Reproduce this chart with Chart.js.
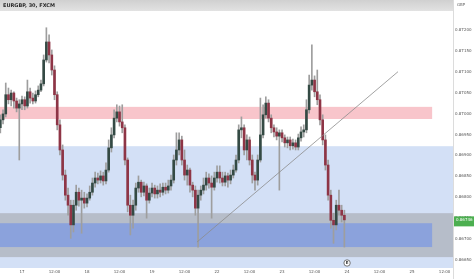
<!DOCTYPE html>
<html>
<head>
<meta charset="utf-8">
<script src="https://cdn.jsdelivr.net/npm/chart.js@4.4.1/dist/chart.umd.min.js"></script>
<style>
  html, body { margin: 0; padding: 0; background: #fff; }
  canvas { display: block; }
</style>
</head>
<body>
<canvas id="chart" width="474" height="279"></canvas>
<script>
// EURGBP, FXCM - candles, one per trading hour.
// x = trading hours since the 17th 00:00 (weekend skipped, like the platform does)
const headerText = 'EURGBP, 30, FXCM';
const currency = 'GBP';
const startHour = -8;
const firstOpen = 0.86966;

const closes = [
    0.86985, 0.86999, 0.87045, 0.87033, 0.87049, 0.87030, 0.87013, 0.87023,
    0.87033, 0.87018, 0.87052, 0.87037, 0.87030, 0.87045, 0.87056, 0.87071,
    0.87128, 0.87171, 0.87140, 0.87104, 0.87045, 0.86973, 0.86913, 0.86853,
    0.86805, 0.86781, 0.86734, 0.86781, 0.86812, 0.86793, 0.86798, 0.86786,
    0.86798, 0.86812, 0.86834, 0.86846, 0.86841, 0.86851, 0.86839, 0.86865,
    0.86918, 0.86949, 0.86989, 0.87004, 0.86980, 0.86966, 0.86889, 0.86781,
    0.86757, 0.86781, 0.86822, 0.86836, 0.86812, 0.86827, 0.86793, 0.86810,
    0.86822, 0.86808, 0.86817, 0.86812, 0.86824, 0.86817, 0.86827, 0.86841,
    0.86889, 0.86913, 0.86937, 0.86889, 0.86853, 0.86865, 0.86829, 0.86817,
    0.86774, 0.86805, 0.86817, 0.86829, 0.86846, 0.86834, 0.86824, 0.86846,
    0.86860, 0.86846, 0.86836, 0.86851, 0.86841, 0.86853, 0.86865, 0.86889,
    0.86961, 0.86966, 0.86913, 0.86937, 0.86889, 0.86853, 0.86841, 0.86889,
    0.86949, 0.86997, 0.87025, 0.86989, 0.86966, 0.86956, 0.86946, 0.86954,
    0.86942, 0.86930, 0.86937, 0.86923, 0.86930, 0.86920, 0.86942, 0.86956,
    0.86961, 0.87009, 0.87068, 0.87080, 0.87052, 0.87033, 0.86985, 0.86937,
    0.86877, 0.86805, 0.86745, 0.86734, 0.86781, 0.86769, 0.86757, 0.86746
];

const highs = [
    0.86997, 0.87009, 0.87073, 0.87061, 0.87056, 0.87052, 0.87037, 0.87033,
    0.87042, 0.87040, 0.87080, 0.87061, 0.87049, 0.87054, 0.87066, 0.87080,
    0.87140, 0.87205, 0.87188, 0.87152, 0.87114, 0.87052, 0.86985, 0.86925,
    0.86865, 0.86822, 0.86793, 0.86793, 0.86829, 0.86822, 0.86817, 0.86812,
    0.86808, 0.86827, 0.86846, 0.86860, 0.86858, 0.86863, 0.86860, 0.86882,
    0.86937, 0.86966, 0.87009, 0.87021, 0.87018, 0.87021, 0.86973, 0.86894,
    0.86805, 0.86793, 0.86834, 0.86851, 0.86841, 0.86836, 0.86832, 0.86822,
    0.86834, 0.86829, 0.86827, 0.86832, 0.86834, 0.86834, 0.86841, 0.86853,
    0.86901, 0.86954, 0.86954, 0.86946, 0.86913, 0.86877, 0.86870, 0.86836,
    0.86827, 0.86817, 0.86827, 0.86846, 0.86860, 0.86856, 0.86851, 0.86860,
    0.86875, 0.86875, 0.86860, 0.86860, 0.86858, 0.86865, 0.86877, 0.86901,
    0.86973, 0.86992, 0.86973, 0.86949, 0.86944, 0.86901, 0.86860, 0.86901,
    0.87037, 0.87021, 0.87040, 0.87033, 0.86997, 0.86973, 0.86966, 0.86961,
    0.86961, 0.86949, 0.86944, 0.86944, 0.86939, 0.86937, 0.86951, 0.86968,
    0.86973, 0.87033, 0.87092, 0.87164, 0.87090, 0.87104, 0.87045, 0.86997,
    0.86949, 0.86889, 0.86817, 0.86762, 0.86793, 0.86817, 0.86781, 0.86769
];

const lows = [
    0.86954, 0.86975, 0.86992, 0.87023, 0.87018, 0.87013, 0.87004, 0.86889,
    0.87009, 0.87009, 0.87013, 0.87025, 0.87023, 0.87025, 0.87040, 0.87052,
    0.87066, 0.87123, 0.87121, 0.87092, 0.87033, 0.86961, 0.86901, 0.86841,
    0.86793, 0.86757, 0.86702, 0.86717, 0.86769, 0.86779, 0.86714, 0.86774,
    0.86777, 0.86793, 0.86805, 0.86824, 0.86832, 0.86834, 0.86829, 0.86832,
    0.86860, 0.86908, 0.86942, 0.86980, 0.86970, 0.86954, 0.86877, 0.86765,
    0.86710, 0.86726, 0.86769, 0.86812, 0.86801, 0.86803, 0.86750, 0.86786,
    0.86801, 0.86798, 0.86798, 0.86801, 0.86805, 0.86808, 0.86810, 0.86817,
    0.86834, 0.86877, 0.86901, 0.86877, 0.86841, 0.86829, 0.86812, 0.86801,
    0.86757, 0.86681, 0.86793, 0.86808, 0.86817, 0.86822, 0.86750, 0.86817,
    0.86836, 0.86834, 0.86827, 0.86827, 0.86824, 0.86832, 0.86846, 0.86860,
    0.86882, 0.86942, 0.86901, 0.86889, 0.86877, 0.86834, 0.86817, 0.86829,
    0.86884, 0.86942, 0.86989, 0.86980, 0.86954, 0.86944, 0.86937, 0.86817,
    0.86932, 0.86920, 0.86918, 0.86913, 0.86915, 0.86913, 0.86913, 0.86934,
    0.86944, 0.86954, 0.87001, 0.87056, 0.87040, 0.87021, 0.86973, 0.86925,
    0.86865, 0.86793, 0.86726, 0.86690, 0.86722, 0.86757, 0.86741, 0.86681
];

// time axis
const xTickHours = [0, 12, 24, 36, 48, 60, 72, 84, 96, 108, 120, 132, 144, 156];
const xTickLabels = ['17', '12:00', '18', '12:00', '19', '12:00', '22', '12:00', '23', '12:00', '24', '12:00', '25', '12:00'];
const xMin = -8.12;
const xMax = 159.1;

// price axis
const yTicks = [0.8665, 0.867, 0.8675, 0.868, 0.8685, 0.869, 0.8695, 0.870, 0.8705, 0.871, 0.8715, 0.872];
const yMin = 0.86631;
const yMax = 0.87245;

// drawings: trend line and boxes [fromHour, toHour, topPrice, bottomPrice]
const trendLine = [{x: 64.6, y: 0.86693}, {x: 138.8, y: 0.87100}];
const demandZone = [-9, 170, 0.86922, 0.86600];
const rangeBand = [-9, 170, 0.86762, 0.86657];
const supportBox = [-9, 151.4, 0.86738, 0.86681];
const supplyZone = [-9, 151.4, 0.87016, 0.86987];
const eventHour = 120;

const hours = closes.map((c, i) => startHour + i);
// each candle opens where the previous one closed
const opens = closes.map((c, i) => i === 0 ? firstOpen : closes[i - 1]);
const bodyColors = closes.map((c, i) => c >= opens[i] ? '#344a44' : '#8e3546');

const zonesPlugin = {
    id: 'zones',
    beforeDatasetsDraw(chart) {
        const {ctx, chartArea, scales: {x, y}} = chart;
        ctx.save();
        ctx.beginPath();
        ctx.rect(chartArea.left, chartArea.top, chartArea.width, chartArea.height);
        ctx.clip();
        const boxes = [
            [demandZone, '#d3e0f6'],
            [rangeBand, '#b6bdc9'],
            [supportBox, '#8ba2dc'],
            [supplyZone, '#f8c5cb']
        ];
        boxes.forEach(([z, color]) => {
            const x0 = x.getPixelForValue(z[0]);
            const x1 = x.getPixelForValue(z[1]);
            const y0 = y.getPixelForValue(z[2]);
            const y1 = y.getPixelForValue(z[3]);
            ctx.fillStyle = color;
            ctx.fillRect(x0, y0, x1 - x0, y1 - y0);
        });
        ctx.restore();
    }
};

const chromePlugin = {
    id: 'chrome',
    beforeDraw(chart) {
        const {ctx, chartArea} = chart;
        ctx.save();
        ctx.fillStyle = '#ffffff';
        ctx.fillRect(0, 0, chart.width, chart.height);
        const g = ctx.createLinearGradient(0, 0, 0, chartArea.top);
        g.addColorStop(0, '#d0d0d0');
        g.addColorStop(1, '#e2e2e2');
        ctx.fillStyle = g;
        ctx.fillRect(0, 0, chartArea.right, chartArea.top);
        ctx.fillStyle = '#2a2a2a';
        ctx.font = 'bold 5px "DejaVu Sans"';
        ctx.textBaseline = 'middle';
        ctx.fillText(headerText, 3, chartArea.top / 2);
        ctx.fillStyle = '#666';
        ctx.font = '4px "DejaVu Sans"';
        ctx.fillText(currency, chartArea.right + 4, 5);
        ctx.restore();
    },
    afterDraw(chart) {
        const {ctx, chartArea, scales: {x, y}} = chart;
        ctx.save();
        // price axis separator
        ctx.strokeStyle = '#dcdcdc';
        ctx.lineWidth = 1;
        ctx.beginPath();
        ctx.moveTo(chartArea.right + 0.5, 0);
        ctx.lineTo(chartArea.right + 0.5, chart.height);
        ctx.stroke();

        // last price tag
        const last = closes[closes.length - 1];
        const py = y.getPixelForValue(last);
        ctx.fillStyle = '#4caf50';
        ctx.fillRect(chartArea.right + 1, py - 3.5, chart.width - chartArea.right - 1, 10);
        ctx.fillStyle = '#ffffff';
        ctx.font = '4px "DejaVu Sans"';
        ctx.textBaseline = 'middle';
        ctx.fillText(last.toFixed(5), chartArea.right + 3, py);

        // event marker
        const ex = x.getPixelForValue(eventHour);
        const ey = chartArea.bottom - 5;
        ctx.beginPath();
        ctx.arc(ex, ey, 3.2, 0, Math.PI * 2);
        ctx.fillStyle = '#ffffff';
        ctx.fill();
        ctx.strokeStyle = '#555';
        ctx.lineWidth = 0.8;
        ctx.stroke();
        ctx.fillStyle = '#333';
        ctx.font = 'bold 4px "DejaVu Sans"';
        ctx.textAlign = 'center';
        ctx.fillText('E', ex, ey + 0.3);
        ctx.restore();
    }
};

new Chart(document.getElementById('chart'), {
    type: 'bar',
    data: {
        datasets: [
            {
                type: 'line',
                data: trendLine,
                borderColor: '#8c8c8c',
                borderWidth: 0.8,
                pointRadius: 0,
                order: 0
            },
            {
                data: hours.map((h, i) => ({x: h, y: [opens[i], closes[i]]})),
                backgroundColor: bodyColors,
                barThickness: 2,
                minBarLength: 1,
                grouped: false,
                order: 1
            },
            {
                data: hours.map((h, i) => ({x: h, y: [lows[i], highs[i]]})),
                backgroundColor: '#9e9e9e',
                barThickness: 1,
                grouped: false,
                order: 2
            }
        ]
    },
    options: {
        responsive: false,
        animation: false,
        devicePixelRatio: 1,
        layout: {padding: {top: 11, left: 0, right: 0, bottom: 0}},
        plugins: {
            legend: {display: false},
            tooltip: {enabled: false}
        },
        scales: {
            x: {
                type: 'linear',
                offset: false,
                min: xMin,
                max: xMax,
                grid: {display: false, drawTicks: false},
                border: {display: false},
                afterBuildTicks: s => { s.ticks = xTickHours.map(v => ({value: v})); },
                afterFit: s => { s.height = 11; },
                ticks: {
                    autoSkip: false,
                    maxRotation: 0,
                    padding: 2,
                    color: '#555',
                    font: {size: 4, family: 'DejaVu Sans'},
                    callback: (v, i) => xTickLabels[i]
                }
            },
            y: {
                position: 'right',
                min: yMin,
                max: yMax,
                grid: {display: false, drawTicks: false},
                border: {display: false},
                afterBuildTicks: s => { s.ticks = yTicks.map(v => ({value: v})); },
                afterFit: s => { s.width = 21; },
                ticks: {
                    padding: 2,
                    color: '#555',
                    font: {size: 4, family: 'DejaVu Sans'},
                    callback: v => v.toFixed(5)
                }
            }
        }
    },
    plugins: [chromePlugin, zonesPlugin]
});
</script>
</body>
</html>
